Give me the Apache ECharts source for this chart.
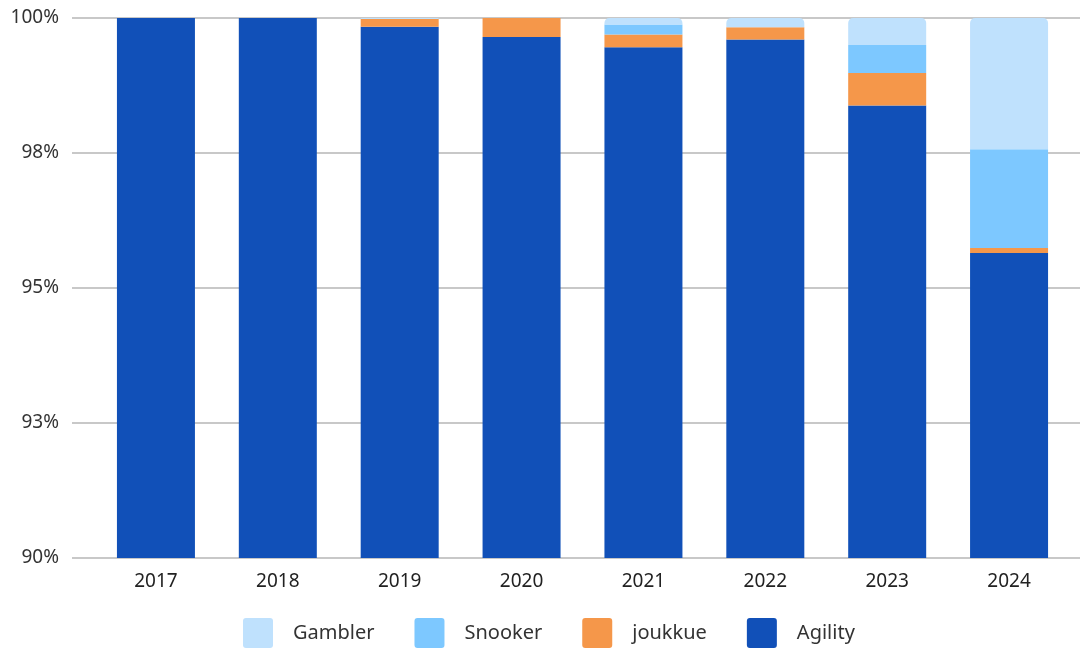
<!DOCTYPE html>
<html>
<head>
<meta charset="utf-8">
<script src="https://cdn.jsdelivr.net/npm/echarts@6/dist/echarts.min.js"></script>
<style>html,body{margin:0;padding:0;background:#fff}#c{width:1080px;height:651px}</style>
</head>
<body>
<div id="c"></div>
<script>
const years = ['2017','2018','2019','2020','2021','2022','2023','2024'];
const agility = [100, 100, 99.84, 99.65, 99.46, 99.60, 98.38, 95.65];
const joukkue = [0, 0, 0.14, 0.35, 0.235, 0.23, 0.60, 0.09];
const snooker = [0, 0, 0, 0, 0.185, 0, 0.52, 1.83];
const gambler = [0, 0, 0.02, 0, 0.12, 0.17, 0.50, 2.43];
const yTicks = [90, 92.5, 95, 97.5, 100];

const FONT = 'Noto Sans';
const chart = echarts.init(document.getElementById('c'));
const yMin = yTicks[0], yMax = yTicks[yTicks.length - 1], yStep = yTicks[1] - yTicks[0];

function bar(name, data, color, radius) {
  return {
    name, type: 'bar', stack: 'total', data,
    xAxisIndex: 1, yAxisIndex: 1,
    barWidth: 78,
    itemStyle: { color, borderRadius: radius ? [5,5,0,0] : 0 },
    emphasis: { disabled: true }
  };
}

chart.setOption({
  animation: false,
  textStyle: { fontFamily: FONT },
  grid: [
    { left: 72, right: 0, top: 18, bottom: 93 },
    { left: 95, right: 10, top: 18, bottom: 93 }
  ],
  legend: {
    data: ['Gambler', 'Snooker', 'joukkue', 'Agility'],
    top: 618, left: 243, padding: 0,
    itemWidth: 30, itemHeight: 30, itemGap: 40,
    icon: 'path://M3,0 L27,0 Q30,0 30,3 L30,27 Q30,30 27,30 L3,30 Q0,30 0,27 L0,3 Q0,0 3,0 Z',
    textStyle: { fontFamily: FONT, fontSize: 20, color: '#333', padding: [0, 0, 0, 15] }
  },
  xAxis: [
    { type: 'category', gridIndex: 0, data: years, show: false },
    { type: 'category', gridIndex: 1, data: years,
      axisLine: { show: false }, axisTick: { show: false },
      axisLabel: { fontFamily: FONT, fontSize: 19, color: '#222', margin: 14 } }
  ],
  yAxis: [
    { type: 'value', gridIndex: 0, min: yMin, max: yMax, interval: yStep,
      axisLine: { show: false }, axisTick: { show: false },
      splitLine: { lineStyle: { color: '#c8c8c8', width: 2 } },
      axisLabel: { fontFamily: FONT, fontSize: 19, color: '#333', margin: 13,
        formatter: v => Math.round(v) + '%' } },
    { type: 'value', gridIndex: 1, min: yMin, max: yMax, interval: yStep, show: false,
      splitLine: { show: false } }
  ],
  series: [
    bar('Agility', agility, '#1150B8', false),
    bar('joukkue', joukkue, '#F5974A', false),
    bar('Snooker', snooker, '#7DC8FF', false),
    bar('Gambler', gambler, '#BFE1FD', true)
  ]
});
</script>
</body>
</html>
